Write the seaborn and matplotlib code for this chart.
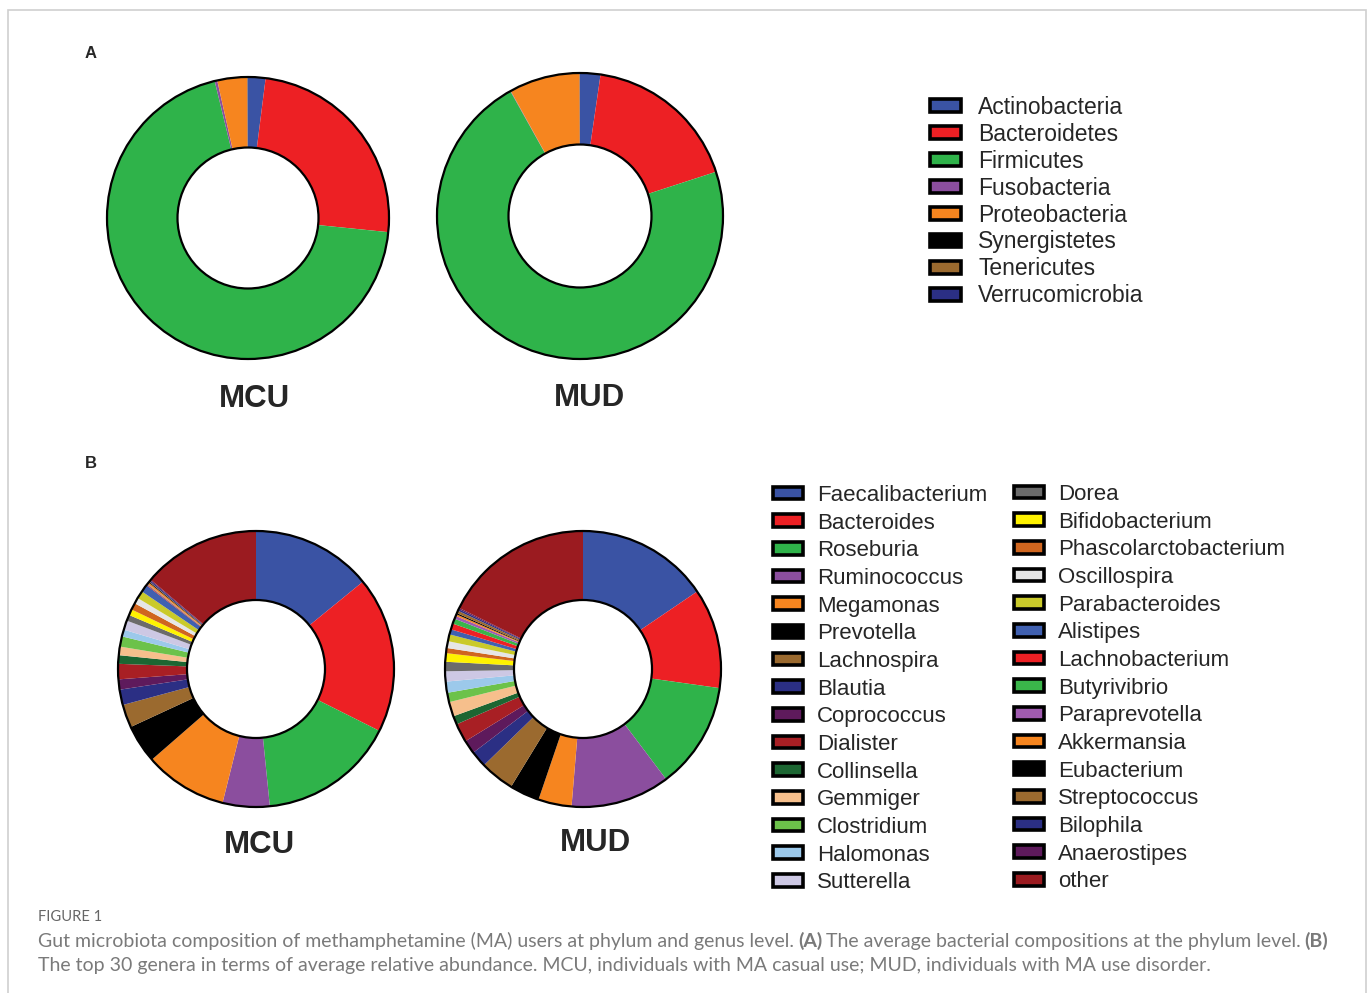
import matplotlib
matplotlib.use("Agg")
import matplotlib.pyplot as plt
import matplotlib.patches as mpatches
import seaborn as sns

sns.set_theme(style="white")
plt.rcParams['font.family'] = ['Liberation Sans', 'DejaVu Sans']

# %% data: phylum level (percent, clockwise from 12 o'clock)
phyla = ["Actinobacteria", "Bacteroidetes", "Firmicutes", "Fusobacteria",
         "Proteobacteria", "Synergistetes", "Tenericutes", "Verrucomicrobia"]
phylum_colors = ["#3a53a4", "#ed2024", "#2fb34a", "#8b4e9e",
                 "#f6851f", "#000000", "#9b6a2f", "#2b2f84"]
phylum_mcu = [2.0, 24.6, 69.6, 0.3, 3.4, 0.02, 0.05, 0.03]
phylum_mud = [2.3, 17.7, 71.9, 0.05, 8.0, 0.01, 0.02, 0.02]

# %% data: genus level (top 30 + other)
genera = ["Faecalibacterium", "Bacteroides", "Roseburia", "Ruminococcus",
          "Megamonas", "Prevotella", "Lachnospira", "Blautia", "Coprococcus",
          "Dialister", "Collinsella", "Gemmiger", "Clostridium", "Halomonas",
          "Sutterella", "Dorea", "Bifidobacterium", "Phascolarctobacterium",
          "Oscillospira", "Parabacteroides", "Alistipes", "Lachnobacterium",
          "Butyrivibrio", "Paraprevotella", "Akkermansia", "Eubacterium",
          "Streptococcus", "Bilophila", "Anaerostipes", "other"]
genus_colors = ["#3a53a4", "#ed2024", "#2fb34a", "#8b4e9e",
                "#f6851f", "#000000", "#9b6a2f", "#2b2f84", "#5e1a5c",
                "#a81f24", "#1c6632", "#f6bf8c", "#6cc24a", "#9cc9eb",
                "#cdc8e4", "#6b6b6b", "#fff200", "#d0661f",
                "#e6e6e6", "#caca2a", "#4060b0", "#ed2024",
                "#3ab54a", "#a05bb0", "#f6851f", "#000000",
                "#9b6a2f", "#2b2f84", "#5e1a5c", "#9b1b20"]
genus_mcu = [14.1, 18.3, 16.0, 5.5, 9.7, 4.5, 2.7, 1.8, 1.2,
             1.8, 1.0, 1.0, 1.2, 0.8, 1.1, 0.7, 0.7, 0.8,
             0.7, 0.9, 0.9, 0.1, 0.05, 0.05, 0.2, 0.1,
             0.05, 0.15, 0.1, 13.8]
genus_mud = [15.5, 11.7, 12.5, 11.6, 3.9, 3.5, 4.0, 1.9, 1.6,
             2.2, 1.0, 1.7, 1.1, 1.3, 1.2, 1.1, 1.0, 0.6,
             0.8, 0.8, 0.6, 0.7, 0.6, 0.35, 0.2, 0.15,
             0.3, 0.2, 0.15, 17.7]

groups = ["MCU", "MUD"]

W, H = 1370, 993
fig = plt.figure(figsize=(W / 100, H / 100), dpi=100)
fig.patch.set_facecolor("white")

# light frame around the figure
fig.add_artist(mpatches.Rectangle((8 / W, -0.05), 1358 / W, 1 - 10 / H + 0.05,
                                  transform=fig.transFigure, fill=False,
                                  edgecolor="#cfcfcf", linewidth=1.2))


def donut(cx, cy, r, values, colors):
    ax = fig.add_axes([(cx - r) / W, 1 - (cy + r) / H, 2 * r / W, 2 * r / H])
    ax.pie(values, colors=colors, startangle=90, counterclock=False,
           radius=1, wedgeprops=dict(width=0.5, linewidth=0))
    for rad in (1.0, 0.5):
        ax.add_patch(mpatches.Circle((0, 0), rad, fill=False, edgecolor="black",
                                     linewidth=1.6, clip_on=False))
    ax.set_xlim(-1, 1)
    ax.set_ylim(-1, 1)
    ax.set_aspect("equal")
    ax.axis("off")
    return ax


donut(248, 218, 141, phylum_mcu, phylum_colors)
donut(580, 216, 143, phylum_mud, phylum_colors)
donut(256, 669, 138, genus_mcu, genus_colors)
donut(583, 669, 138, genus_mud, genus_colors)

# group labels
for (x, y), g in zip([(254, 399), (590, 398)], groups):
    fig.text(x / W, 1 - y / H, g, ha="center", va="center",
             fontsize=22.5, fontweight="bold")
for (x, y), g in zip([(259, 845), (595, 843)], groups):
    fig.text(x / W, 1 - y / H, g, ha="center", va="center",
             fontsize=22.5, fontweight="bold")

# panel letters
fig.text(91 / W, 1 - 53 / H, "A", ha="center", va="center", fontsize=12, fontweight="bold")
fig.text(91 / W, 1 - 464 / H, "B", ha="center", va="center", fontsize=12, fontweight="bold")


def legend_at(x, y, labels, colors, fs, spacing, pad):
    handles = [mpatches.Patch(facecolor=c, edgecolor="black", linewidth=2.6)
               for c in colors]
    fig.legend(handles, labels, loc="upper left", bbox_to_anchor=(x / W, 1 - y / H),
               frameon=False, fontsize=fs, borderpad=0, borderaxespad=0,
               handlelength=1.35, handleheight=0.5, handletextpad=pad,
               labelspacing=spacing)


legend_at(930, 96, phyla, phylum_colors, 16.5, 0.17, 0.75)
legend_at(773, 485, genera[:15], genus_colors[:15], 16, 0.3, 0.62)
legend_at(1014, 484, genera[15:], genus_colors[15:], 16, 0.3, 0.62)

# caption
fig.text(38 / W, 1 - 917 / H, "FIGURE 1", ha="left", va="center",
         fontsize=10.6, color="#666666", family=["Lato", "DejaVu Sans"])

cap_fs = 14
cap_kw = dict(ha="left", va="center", fontsize=cap_fs, color="#7a7a7a",
              family=["Lato", "DejaVu Sans"])
lines = [
    [("Gut microbiota composition of methamphetamine (MA) users at phylum and genus level.", "normal"),
     ("(A)", "bold"),
     ("The average bacterial compositions at the phylum level.", "normal"),
     ("(B)", "bold")],
    [("The top 30 genera in terms of average relative abundance. MCU, individuals with MA casual use; MUD, individuals with MA use disorder.", "normal")],
]
fig.canvas.draw()
renderer = fig.canvas.get_renderer()
space = cap_fs * 0.27
for line, y in zip(lines, [941, 965]):
    x = 38
    for txt, weight in line:
        t = fig.text(x / W, 1 - y / H, txt, fontweight=weight, **cap_kw)
        bb = t.get_window_extent(renderer=renderer)
        x = bb.x1 + space

fig.savefig("out.png", dpi=100, facecolor="white")
